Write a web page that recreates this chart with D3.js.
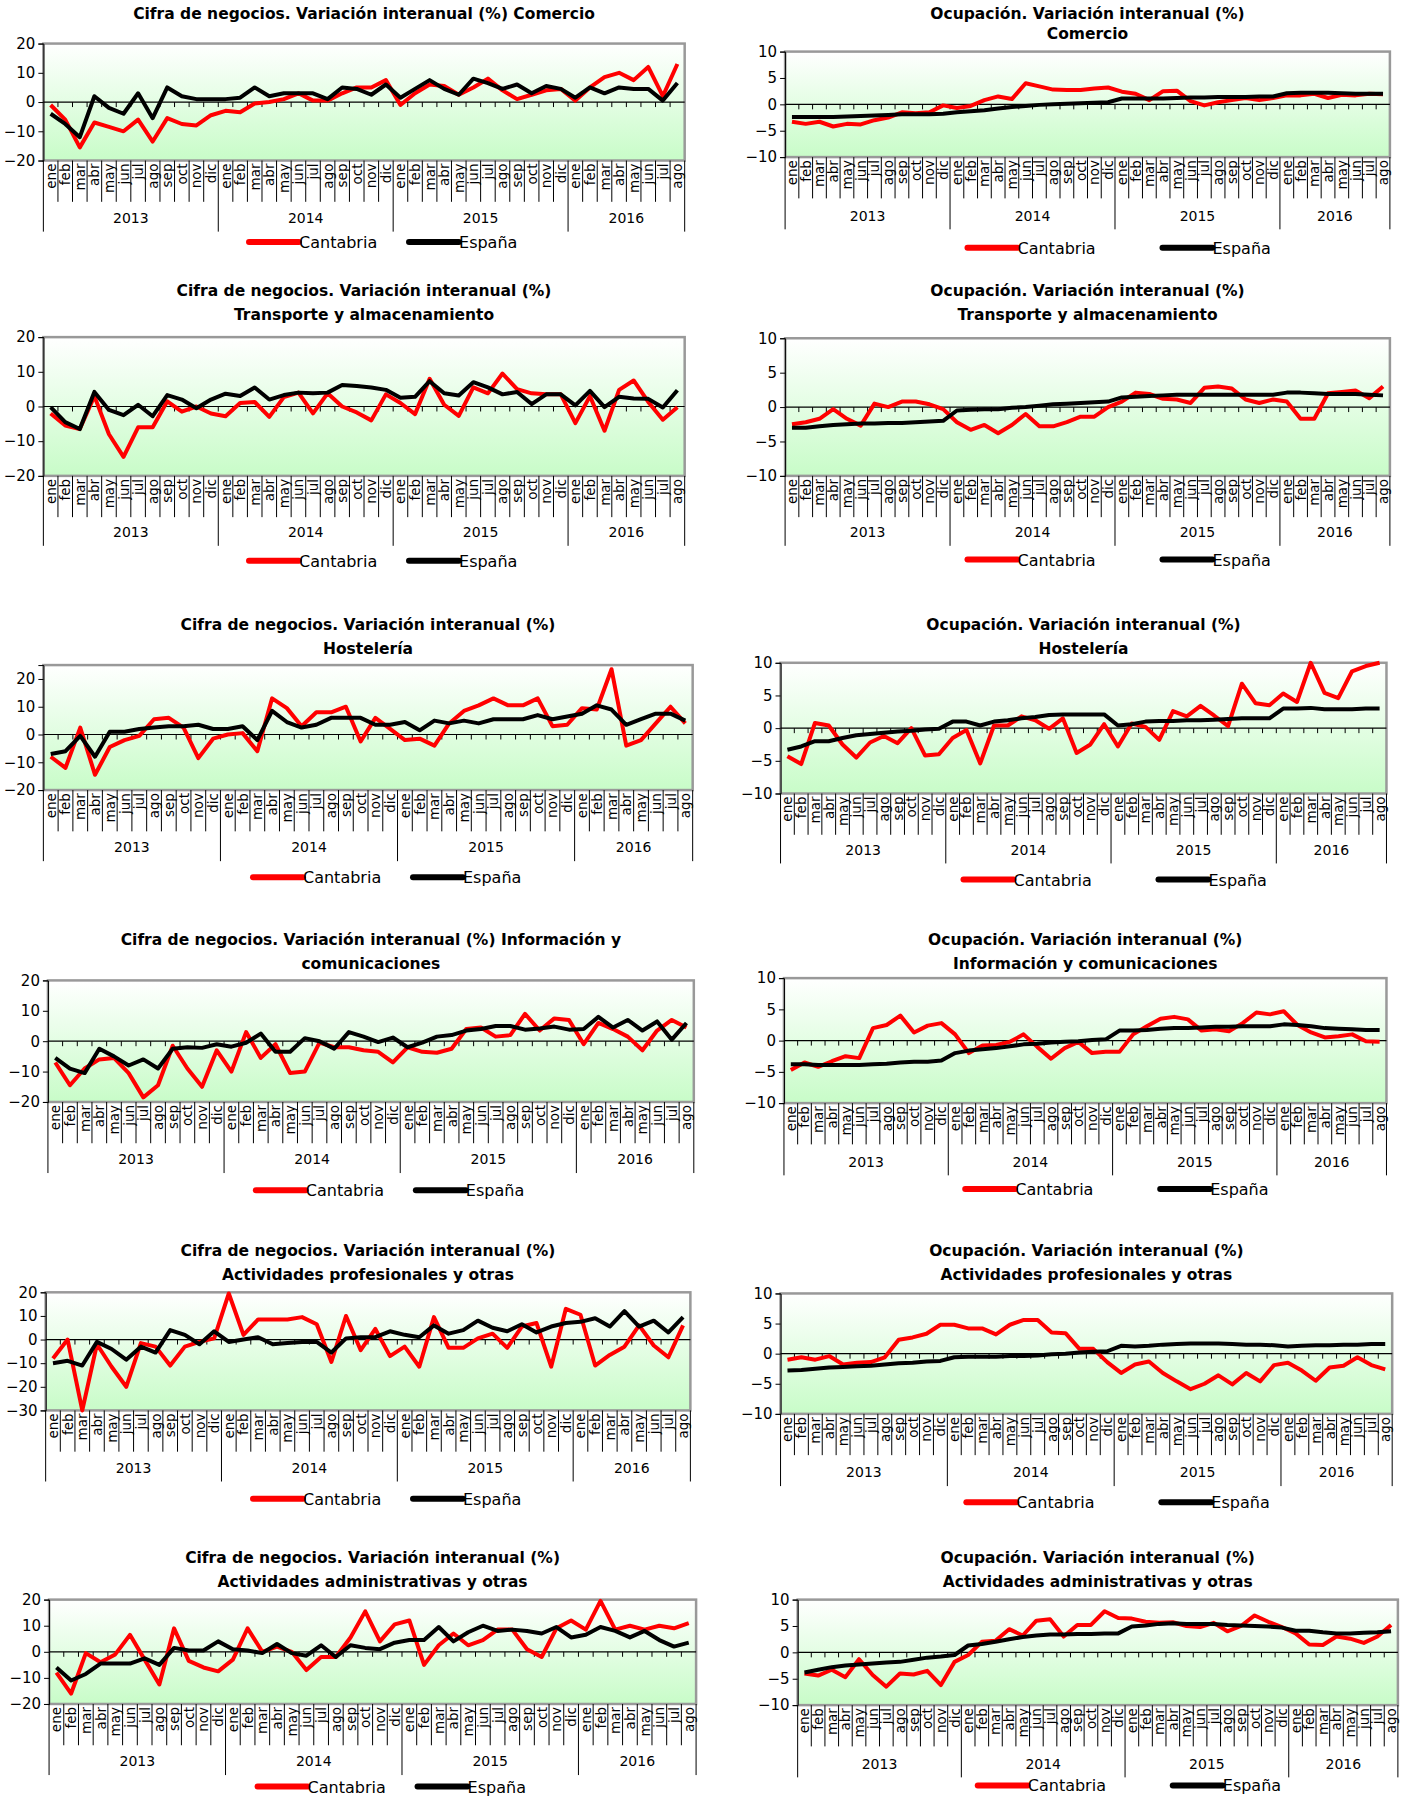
<!DOCTYPE html>
<html><head><meta charset="utf-8">
<script src="https://cdn.jsdelivr.net/npm/d3@7"></script>
<style>body{margin:0;background:#fff}svg{display:block}text{font-family:"DejaVu Sans",sans-serif}</style>
</head><body>
<div id="chart"></div>
<script>
// Datos
var meses = ["ene","feb","mar","abr","may","jun","jul","ago","sep","oct","nov","dic"];
var anios = ["2013","2014","2015","2016"];
var series = ["Cantabria","España"];
var colores = ["#ff0000","#000000"];

var titulos = [
  ["Cifra de negocios. Variación interanual (%)  Comercio"],
  ["Ocupación. Variación interanual (%)","Comercio"],
  ["Cifra de negocios. Variación interanual (%)","Transporte y almacenamiento"],
  ["Ocupación. Variación interanual (%)","Transporte y almacenamiento"],
  ["Cifra de negocios. Variación interanual (%)","Hostelería"],
  ["Ocupación. Variación interanual (%)","Hostelería"],
  ["Cifra de negocios. Variación interanual (%)  Información y","comunicaciones"],
  ["Ocupación. Variación interanual (%)","Información y comunicaciones"],
  ["Cifra de negocios. Variación interanual (%)","Actividades profesionales y otras"],
  ["Ocupación. Variación interanual (%)","Actividades profesionales y otras"],
  ["Cifra de negocios. Variación interanual (%)","Actividades administrativas y otras"],
  ["Ocupación. Variación interanual (%)","Actividades administrativas y otras"]
];

var dominios = [[-20,20],[-10,10],[-20,20],[-10,10],[-20,25],[-10,10],[-20,20],[-10,10],[-30,20],[-10,10],[-20,20],[-10,10]];
var ticks = [[-20,-10,0,10,20],[-10,-5,0,5,10],[-20,-10,0,10,20],[-10,-5,0,5,10],[-20,-10,0,10,20],[-10,-5,0,5,10],
             [-20,-10,0,10,20],[-10,-5,0,5,10],[-30,-20,-10,0,10,20],[-10,-5,0,5,10],[-20,-10,0,10,20],[-10,-5,0,5,10]];

var cantabria = [
 [-1,-6,-15.5,-7,-8.5,-10,-6,-13.5,-5.5,-7.5,-8,-4.5, -3,-3.5,-0.5,0,1,3,0.5,0.5,3,5,5,7.5, -1,3,6,5.5,2.5,5,8,4,1,2.5,4,4.5, 0.5,5,8.5,10,7.5,12,2,13],
 [-3.3,-3.7,-3.3,-4.2,-3.7,-3.8,-3,-2.5,-1.5,-1.7,-1.5,-0.2, -0.7,-0.3,0.8,1.5,1,4,3.4,2.8,2.7,2.7,3,3.2, 2.4,2,0.8,2.5,2.6,0.6,-0.2,0.4,0.8,1.2,0.8,1.2, 1.7,1.7,2,1.2,1.8,1.7,2,1.9],
 [-2,-5.5,-6.5,3,-8,-14.5,-6,-6,1.5,-1.5,0,-2, -2.8,1,1.3,-3,2.7,4,-2,3.8,0,-1.7,-4,3.5, 1,-2.2,8,0.5,-2.7,5.5,3.8,9.5,5,3.8,3.5,3.5, -4.8,3,-7,4.8,7.5,1.3,-3.8,-0.2],
 [-2.5,-2.2,-1.7,-0.3,-1.7,-2.7,0.5,0,0.8,0.8,0.4,-0.3, -2.2,-3.3,-2.6,-3.8,-2.6,-1,-2.8,-2.8,-2.2,-1.4,-1.4,0, 0.8,2.1,1.9,1.2,1.1,0.6,2.8,3,2.7,1.1,0.6,1.1, 0.8,-1.7,-1.7,2,2.2,2.4,1.3,3],
 [-8,-12,2.5,-14.5,-4.5,-2,-0.5,5.5,6,2.5,-8.5,-1.5, 0,0.5,-6,13,9.5,3,8,8,10,-2.5,6,2, -2,-1.5,-4,4,8.5,10.5,13,10.5,10.5,13,3,3.5, 9.5,9,23.5,-4,-2,4,10,4],
 [-4.3,-5.5,0.8,0.4,-2.5,-4.5,-2.2,-1.2,-2.3,0,-4.2,-4, -1.5,-0.3,-5.4,0.4,0.4,1.8,1.2,-0.1,1.5,-3.8,-2.5,0.6, -2.8,0.7,0.2,-1.8,2.6,1.8,3.4,1.9,0.3,6.8,3.8,3.5, 5.3,4,10,5.4,4.6,8.7,9.5,10],
 [-7,-14.5,-9,-6,-5.5,-10.5,-18.5,-14.5,-1.5,-9,-15,-3, -10,3,-5.5,-1,-10.5,-10,-0.5,-2,-2,-3,-3.5,-7, -2,-3.5,-3.8,-2.5,4,4.5,1.5,2,9,3.5,7.5,7, -1,6,4,1.5,-3,3.5,7,4.5],
 [-4.7,-3.5,-4.2,-3.3,-2.5,-2.8,2,2.5,4,1.3,2.4,2.8, 1,-2,-0.8,-0.7,-0.2,1,-1,-2.9,-1.2,-0.2,-2,-1.8, -1.8,1,2.3,3.5,3.8,3.4,1.6,1.8,1.5,2.8,4.5,4.2, 4.7,2.5,1.3,0.5,0.7,1,-0.1,-0.2],
 [-8,0,-30,-2,-11.5,-20,-1.5,-3,-11,-3,-1,0.5, 19.5,2,8.5,8.5,8.5,9.5,6.5,-9.5,10,-4.5,4.5,-7, -3,-11.5,9.5,-3.5,-3.5,0.5,2.5,-3.5,5.5,7,-11.5,13, 10.5,-11,-6.5,-3,6,-2.5,-7.5,6],
 [-1,-0.6,-1,-0.4,-1.8,-1.5,-1.4,-0.6,2.3,2.7,3.3,4.8, 4.8,4.2,4.2,3.2,4.8,5.6,5.6,3.5,3.4,0.8,0.8,-1.4, -3.2,-1.8,-1.3,-3.2,-4.6,-5.9,-5,-3.6,-5.1,-3.2,-4.6,-1.9, -1.5,-2.8,-4.5,-2.3,-2,-0.6,-1.9,-2.6],
 [-8,-16,-0.5,-4,-1,6.5,-3,-12.5,9,-3.5,-6,-7.5, -3,9,0,2,0,-7,-2,-2,5.5,15.5,4,10.5, 12,-5,2.5,7,2.5,4.5,8.5,8.5,1,-2,9,12, 8.5,19.5,8.5,10,8.5,10,9,11],
 [-4,-4.4,-3.3,-4.7,-1.3,-4.3,-6.5,-4,-4.2,-3.5,-6.2,-1.8, -0.5,2,2.2,4.4,3.2,6,6.3,3,5.2,5.2,7.8,6.5, 6.4,5.8,5.6,5.7,5,4.8,5.6,4,5,7,5.8,4.8, 3.6,1.5,1.4,3,2.6,1.8,3,5.2]
];

var espana = [
 [-4,-7.5,-12,2,-2,-4,3,-5.5,5,2,1,1, 1,1.5,5,2,3,3,3,1,5,4.5,2.5,6, 1.5,4.5,7.5,4.5,2.5,8,6.5,4.5,6,3,5.5,4.5, 1.5,5,3,5,4.5,4.5,0.5,6.5],
 [-2.4,-2.4,-2.4,-2.4,-2.3,-2.2,-2.1,-2,-1.9,-1.9,-1.9,-1.8, -1.5,-1.3,-1.1,-0.8,-0.5,-0.3,-0.1,0,0.1,0.2,0.3,0.4, 1.1,1.1,1.1,1.1,1.2,1.3,1.3,1.4,1.4,1.4,1.5,1.5, 2.1,2.2,2.2,2.2,2.1,2,2,2],
 [-0.2,-4.5,-6.5,4.2,-1,-2.5,0.5,-2.8,3.3,2,-0.5,2, 3.7,3,5.5,2,3.3,4,3.8,4,6.2,5.9,5.5,4.8, 2.5,2.8,7.3,3.8,3.2,7,5.5,3.5,4.2,0.7,3.5,3.5, 0.3,4.5,-0.2,2.8,2.3,2.2,-0.3,4.7],
 [-3,-3,-2.8,-2.6,-2.5,-2.4,-2.4,-2.3,-2.3,-2.2,-2.1,-2, -0.5,-0.4,-0.3,-0.3,-0.1,0,0.2,0.4,0.5,0.6,0.7,0.8, 1.4,1.5,1.6,1.7,1.8,1.8,1.8,1.8,1.8,1.8,1.8,1.8, 2.1,2.1,2,1.9,1.9,1.9,1.8,1.7],
 [-7,-6,-0.5,-8,1,1,2,2.5,3,3,3.5,2, 2,3,-2,8.5,4.5,2.5,3.5,6,6,6,3.5,3.5, 4.5,1.5,5,4,5,4,5.5,5.5,5.5,7,5.5,6.5, 7.5,10.5,9,3.5,5.5,7.5,7.5,5],
 [-3.3,-2.8,-2,-2,-1.5,-1.1,-0.9,-0.7,-0.5,-0.4,-0.2,-0.1, 1,1,0.4,1,1.2,1.5,1.7,2,2.1,2.1,2.1,2.1, 0.4,0.6,1,1.1,1.1,1.2,1.2,1.3,1.4,1.5,1.5,1.5, 3,3,3.1,2.9,2.9,2.9,3,3],
 [-5.5,-9,-10.5,-2.5,-5,-8,-6,-9,-2.5,-2,-2.2,-1, -1.8,-0.5,2.5,-3.5,-3.5,1,0,-2.5,3,1.5,-0.3,1.2, -2,-0.5,1.5,2,3.5,4,5,5,3.8,4.2,4.8,3.8, 4,8,4.5,7,3.5,6.5,0.5,6],
 [-3.8,-3.8,-3.9,-3.9,-3.9,-3.9,-3.8,-3.7,-3.5,-3.4,-3.4,-3.2, -2,-1.6,-1.4,-1.2,-0.9,-0.6,-0.5,-0.3,-0.2,-0.1,0.1,0.2, 1.6,1.6,1.7,1.9,2,2,2.1,2.2,2.2,2.3,2.3,2.3, 2.6,2.5,2.3,2,1.9,1.8,1.7,1.7],
 [-10,-9,-11,-1,-4,-8.5,-3,-5.5,4,2,-2,3.5, -1,0,1,-2,-1.5,-1,-1,-5.5,0.5,1,1,3.5, 2,1,6,2.5,4,8,5,3.5,6.5,3,5.5,7, 7.5,9,5.5,12,5.5,8,3,9.5],
 [-2.8,-2.7,-2.5,-2.3,-2.2,-2.1,-2,-1.8,-1.6,-1.5,-1.3,-1.2, -0.6,-0.5,-0.5,-0.5,-0.4,-0.4,-0.3,-0.1,0,0.2,0.3,0.4, 1.3,1.2,1.3,1.5,1.6,1.7,1.7,1.7,1.6,1.5,1.5,1.4, 1.2,1.3,1.4,1.4,1.5,1.5,1.6,1.6],
 [-6,-11,-8.5,-4.5,-4.5,-4.5,-2.5,-5,1.5,0.5,0.5,4, 1,0.5,-0.5,3,-0.5,-1.5,2.5,-2,2.5,1.5,1,3.5, 4.5,4.5,9.5,4,7.5,10,8,8.5,8,7,9.5,5.5, 6.5,9.5,8,5.5,8,4.5,2,3.5],
 [-3.8,-3.3,-2.8,-2.5,-2.3,-2.1,-1.9,-1.8,-1.4,-1,-0.8,-0.5, 1.3,1.6,2,2.5,2.9,3.2,3.4,3.4,3.5,3.5,3.6,3.6, 4.9,5.1,5.4,5.5,5.4,5.4,5.4,5.2,5.1,5,4.9,4.7, 4.1,4.1,3.8,3.6,3.6,3.7,3.8,4]
];

// categorías: 44 meses (ene 2013 - ago 2016)
var categorias = [];
anios.forEach(function (a) { meses.forEach(function (m) { if (categorias.length < 44) categorias.push(a + "-" + m); }); });

// Disposición (coordenadas de la vista reducida, luego escaladas)
var sx = 1415 / 1240, sy = 1798 / 1568;
var cajas = [
 {t:[12],      x0:38, x1:600, y0:38,  y1:140, ye:190, yl:211},
 {t:[12,30],   x0:688,x1:1218,y0:45,  y1:137, ye:188, yl:216},
 {t:[254,275], x0:38, x1:600, y0:294, y1:415, ye:464, yl:489},
 {t:[254,275], x0:688,x1:1218,y0:295, y1:415, ye:464, yl:488},
 {t:[545,566], x0:38, x1:607, y0:580, y1:689, ye:739, yl:765},
 {t:[545,566], x0:684,x1:1215,y0:578, y1:692, ye:741, yl:767},
 {t:[820,841], x0:42, x1:608, y0:855, y1:961, ye:1011,yl:1038},
 {t:[820,841], x0:687,x1:1215,y0:853, y1:962, ye:1013,yl:1037},
 {t:[1091,1112],x0:40,x1:605, y0:1127,y1:1230,ye:1280,yl:1307},
 {t:[1091,1112],x0:684,x1:1220,y0:1128,y1:1233,ye:1284,yl:1310},
 {t:[1359,1380],x0:43,x1:610, y0:1395,y1:1486,ye:1536,yl:1558},
 {t:[1359,1380],x0:699,x1:1225,y0:1395,y1:1487,ye:1538,yl:1557}
];

var svg = d3.select("#chart").append("svg").attr("width", 1415).attr("height", 1798);
var defs = svg.append("defs");
var grad = defs.append("linearGradient").attr("id", "fondo").attr("x1", 0).attr("y1", 0).attr("x2", 0).attr("y2", 1);
grad.append("stop").attr("offset", "0%").attr("stop-color", "#ffffff");
grad.append("stop").attr("offset", "100%").attr("stop-color", "#c8fcc8");

cajas.forEach(function (c, k) {
  var x0 = c.x0 * sx, x1 = c.x1 * sx, y0 = c.y0 * sy, y1 = c.y1 * sy;
  var cx = (x0 + x1) / 2;
  var g = svg.append("g");

  // Títulos
  titulos[k].forEach(function (t, i) {
    g.append("text").attr("x", cx).attr("y", c.t[i] * sy + 5).attr("text-anchor", "middle")
      .attr("font-size", 15.5).attr("font-weight", "bold").text(t);
  });

  var x = d3.scaleBand().domain(categorias).range([x0, x1]);
  var y = d3.scaleLinear().domain(dominios[k]).range([y1, y0]);

  g.append("rect").attr("x", x0).attr("y", y0).attr("width", x1 - x0).attr("height", y1 - y0)
    .attr("fill", "url(#fondo)").attr("stroke", "#999").attr("stroke-width", 2.5);

  // Eje Y
  var ay = g.append("g").attr("transform", "translate(" + x0 + ",0)")
    .call(d3.axisLeft(y).tickValues(ticks[k]).tickSize(5).tickFormat(d3.format("d")));
  ay.select(".domain").attr("stroke", "#000");
  ay.selectAll("text").attr("font-size", 15).attr("font-family", "DejaVu Sans Condensed, DejaVu Sans");

  // Línea cero con marcas
  var y0v = y(0);
  g.append("line").attr("x1", x0).attr("x2", x1).attr("y1", y0v).attr("y2", y0v).attr("stroke", "#000").attr("stroke-width", 1.2);
  g.selectAll(".tk").data(categorias.slice(1)).enter().append("line")
    .attr("x1", function (d) { return x(d); }).attr("x2", function (d) { return x(d); })
    .attr("y1", y0v).attr("y2", y0v + 5).attr("stroke", "#000");

  // Eje de categorías
  var yMes = y1 + 36 * sy;
  g.selectAll(".sep").data(categorias.slice(1).concat(["fin"])).enter().append("line")
    .attr("x1", function (d) { return d === "fin" ? x1 : x(d); })
    .attr("x2", function (d) { return d === "fin" ? x1 : x(d); })
    .attr("y1", y1)
    .attr("y2", function (d) { return (d === "fin" || d.slice(5) === "ene") ? (c.ye + 12) * sy : yMes; })
    .attr("stroke", "#000").attr("stroke-width", 1);
  g.append("line").attr("x1", x0).attr("x2", x0).attr("y1", y1).attr("y2", (c.ye + 12) * sy).attr("stroke", "#000");

  g.selectAll(".mes").data(categorias).enter().append("text")
    .attr("transform", function (d) { return "translate(" + (x(d) + x.bandwidth() / 2 + 5) + "," + (y1 + 3) + ") rotate(-90)"; })
    .attr("text-anchor", "end").attr("font-size", 13.5)
    .text(function (d) { return d.slice(5); });

  anios.forEach(function (a) {
    var cs = categorias.filter(function (d) { return d.slice(0, 4) === a; });
    var xa = x(cs[0]), xb = x(cs[cs.length - 1]) + x.bandwidth();
    g.append("text").attr("x", (xa + xb) / 2).attr("y", c.ye * sy + 5).attr("text-anchor", "middle")
      .attr("font-size", 14).text(a);
  });

  // Series
  var linea = d3.line().x(function (d, i) { return x(categorias[i]) + x.bandwidth() / 2; }).y(function (d) { return y(d); });
  [cantabria[k], espana[k]].forEach(function (v, i) {
    g.append("path").datum(v).attr("d", linea).attr("fill", "none")
      .attr("stroke", colores[i]).attr("stroke-width", 4).attr("stroke-linejoin", "round");
  });

  // Leyenda
  var ly = c.yl * sy;
  var lx = [cx - 115, cx + 45];
  if (k % 2 === 1) lx = [cx - 120, cx + 75];
  series.forEach(function (s, i) {
    g.append("line").attr("x1", lx[i]).attr("x2", lx[i] + 50).attr("y1", ly).attr("y2", ly)
      .attr("stroke", colores[i]).attr("stroke-width", 6).attr("stroke-linecap", "round");
    g.append("text").attr("x", lx[i] + 50).attr("y", ly + 6).attr("font-size", 16).text(s);
  });
});
</script>
</body></html>
